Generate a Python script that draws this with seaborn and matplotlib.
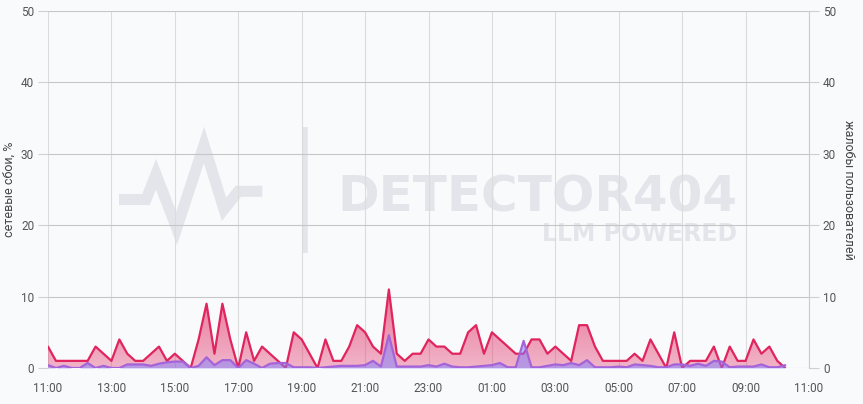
import numpy as np
import pandas as pd
import matplotlib
matplotlib.use("Agg")
import matplotlib.pyplot as plt
from matplotlib.lines import Line2D
from matplotlib.colors import to_rgb
import seaborn as sns

# ---- data (15-minute steps starting 11:00) ----
step_minutes = 15
tick_labels = ["11:00", "13:00", "15:00", "17:00", "19:00", "21:00", "23:00",
               "01:00", "03:00", "05:00", "07:00", "09:00", "11:00"]
failures = [
    3, 1, 1, 1,   1, 1, 3, 2,   1, 4, 2, 1,   1, 2, 3, 1,
    2, 1, 0, 4,   9, 2, 9, 4,   0, 5, 1, 3,   2, 1, 0, 5,
    4, 2, 0, 4,   1, 1, 3, 6,   5, 3, 2, 11,  2, 1, 2, 2,
    4, 3, 3, 2,   2, 5, 6, 2,   5, 4, 3, 2,   2, 4, 4, 2,
    3, 2, 1, 6,   6, 3, 1, 1,   1, 1, 2, 1,   4, 2, 0, 5,
    0, 1, 1, 1,   3, 0, 3, 1,   1, 4, 2, 3,   1, 0,
]
complaints = [
    0.4, 0.0, 0.3, 0.0,   0.0, 0.7, 0.0, 0.3,   0.0, 0.0, 0.5, 0.5,
    0.5, 0.3, 0.6, 0.8,   0.9, 0.9, 0.0, 0.3,   1.5, 0.4, 1.1, 1.1,
    0.0, 1.1, 0.6, 0.0,   0.6, 0.7, 0.7, 0.1,   0.1, 0.1, 0.0, 0.1,
    0.2, 0.3, 0.3, 0.3,   0.4, 1.0, 0.2, 4.6,   0.2, 0.2, 0.2, 0.2,
    0.4, 0.2, 0.6, 0.2,   0.1, 0.1, 0.2, 0.3,   0.4, 0.7, 0.1, 0.1,
    3.8, 0.1, 0.1, 0.3,   0.5, 0.4, 0.7, 0.4,   1.1, 0.1, 0.1, 0.1,
    0.2, 0.1, 0.5, 0.4,   0.3, 0.1, 0.1, 0.5,   0.5, 0.3, 0.6, 0.3,
    1.0, 0.9, 0.1, 0.2,   0.2, 0.2, 0.5, 0.1,   0.1, 0.4,
]
left_label = "сетевые сбои, %"
right_label = "жалобы пользователей"

# ---- style ----
BG = "#f9fafc"
RED = "#e0245e"
PURPLE = "#a463d8"
BLUE = "#7f7fff"
WM = "#e3e5ea"

sns.set_theme(style="white")
plt.rcParams["font.family"] = ["Roboto", "DejaVu Sans"]

hours = np.arange(len(failures)) * step_minutes / 60.0
df = pd.DataFrame({"h": hours, "fail": failures, "compl": complaints})

W, H = 863, 404
fig = plt.figure(figsize=(W / 100, H / 100), dpi=100, facecolor=BG)
ax = fig.add_axes([48 / W, 1 - 368 / H, (809 - 48) / W, (368 - 11) / H])
ax.set_facecolor(BG)
ax.set_axisbelow(True)

# watermark
ax.text(737 / W, 1 - 211.7 / H, "DETECTOR404", transform=fig.transFigure,
        ha="right", va="baseline", fontsize=36, fontweight="bold",
        family="DejaVu Sans", color=WM, zorder=0.1)
ax.text(737 / W, 1 - 240.7 / H, "LLM POWERED", transform=fig.transFigure,
        ha="right", va="baseline", fontsize=17, fontweight="bold",
        family="DejaVu Sans", color=WM, zorder=0.1)
logo_x = [119, 146, 156, 176.7, 204, 224, 238.3, 262.3]
logo_y = [199.5, 199.5, 174.3, 228.3, 145, 209.3, 191.3, 191.3]
ax.add_line(Line2D([x / W for x in logo_x], [1 - y / H for y in logo_y],
                   transform=fig.transFigure, color=WM, lw=8,
                   solid_joinstyle="miter", solid_capstyle="butt",
                   zorder=0.1, clip_on=False))
ax.add_line(Line2D([304.5 / W, 304.5 / W], [1 - 127 / H, 1 - 253 / H],
                   transform=fig.transFigure, color=WM, lw=4,
                   solid_capstyle="butt", zorder=0.1, clip_on=False))

# failures series: gradient area + line
top = max(failures)
poly = ax.fill_between(df["h"], df["fail"], color="none", lw=0, zorder=1)
grad = np.zeros((256, 1, 4))
grad[..., :3] = to_rgb(RED)
grad[:, 0, 3] = np.linspace(0.33, 0.62, 256)
im = ax.imshow(grad, extent=[0, 24, 0, top], origin="lower", aspect="auto",
               interpolation="bilinear", zorder=1)
im.set_clip_path(poly.get_paths()[0], transform=ax.transData)
sns.lineplot(data=df, x="h", y="fail", ax=ax, color=RED, lw=1.6, zorder=2)

ax.set_xlim(0, 24)
ax.set_ylim(0, 50)
ax.set_xticks(np.arange(0, 25, 2))
ax.set_xticklabels(tick_labels)
ax.set_yticks(np.arange(0, 51, 10))
ax.grid(axis="y", color="#c6c6c6", lw=0.8)
ax.grid(axis="x", color="#dcdcdc", lw=0.8)
for s in ax.spines.values():
    s.set_visible(False)
ax.tick_params(axis="both", length=7, width=0.8, color="#d0d0d0",
               labelcolor="#555555", labelsize=8.5, pad=3)
ax.set_xlabel("")
ax.set_ylabel(left_label, fontsize=9, color="#444444")
ax.yaxis.set_label_coords(-0.042, 0.5)

# complaints series on the right axis
ax2 = ax.twinx()
ax2.fill_between(df["h"], df["compl"], color=BLUE, alpha=0.5, lw=0, zorder=1)
sns.lineplot(data=df, x="h", y="compl", ax=ax2, color=PURPLE, lw=1.6, zorder=2)
ax2.set_xlim(0, 24)
ax2.set_ylim(0, 50)
ax2.set_yticks(np.arange(0, 51, 10))
for s in ax2.spines.values():
    s.set_visible(False)
ax2.spines["right"].set_visible(True)
ax2.spines["right"].set_color("#cccccc")
ax2.spines["right"].set_linewidth(0.8)
ax2.tick_params(axis="y", length=7, width=0.8, color="#d0d0d0",
                labelcolor="#555555", labelsize=8.5, pad=3)
ax2.set_xlabel("")
ax2.set_ylabel(right_label, fontsize=9, color="#444444", rotation=270, va="bottom")
ax2.yaxis.set_label_coords(1.043, 0.5)
ax2.grid(False)

fig.savefig("out.png", dpi=100, facecolor=BG)
